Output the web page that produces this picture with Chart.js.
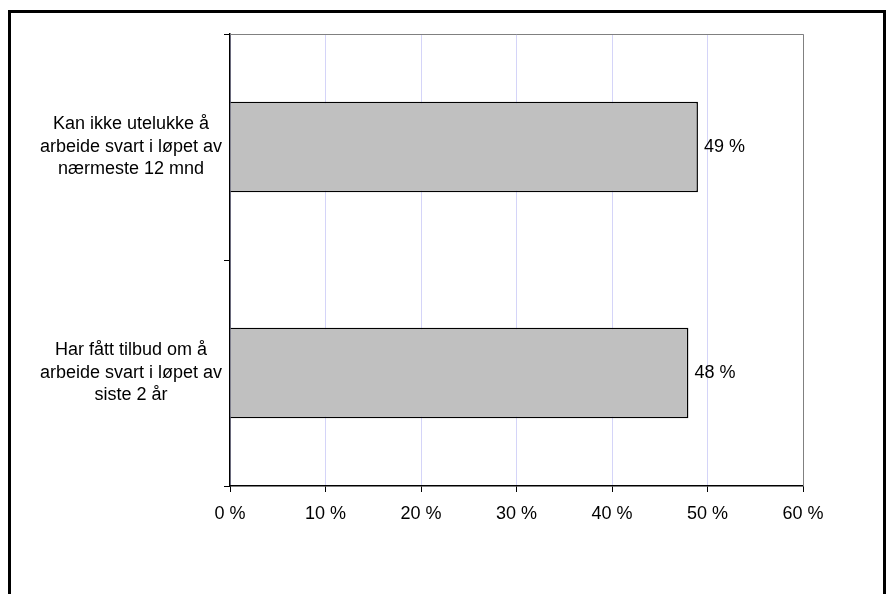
<!DOCTYPE html>
<html>
<head>
<meta charset="utf-8">
<script src="https://cdn.jsdelivr.net/npm/chart.js@4"></script>
<style>
  html, body { margin: 0; padding: 0; background: #fff; overflow: hidden; }
  #frame { position: absolute; left: 8px; top: 10px; width: 872px; height: 700px; border: 3px solid #000; }
  #wrap { position: absolute; left: 0; top: 0; width: 889px; height: 594px; }
</style>
</head>
<body>
<div id="frame"></div>
<div id="wrap"><canvas id="chart" width="889" height="594"></canvas></div>
<script>
// Data
const categories = [
  ['Kan ikke utelukke å', 'arbeide svart i løpet av', 'nærmeste 12 mnd'],
  ['Har fått tilbud om å', 'arbeide svart i løpet av', 'siste 2 år']
];
const values = [49, 48];
const xTicks = [0, 10, 20, 30, 40, 50, 60];

const FONT = { family: '"Liberation Sans", Arial, sans-serif', size: 18 };

// gray frame on top and right of the plot area
const plotFrame = {
  id: 'plotFrame',
  afterDraw(chart) {
    const { ctx, chartArea: a } = chart;
    ctx.save();
    ctx.strokeStyle = '#808080';
    ctx.lineWidth = 1;
    ctx.beginPath();
    ctx.moveTo(a.left, a.top + 0.5);
    ctx.lineTo(a.right + 0.5, a.top + 0.5);
    ctx.lineTo(a.right + 0.5, a.bottom);
    ctx.stroke();
    ctx.restore();
  }
};

// value labels right of each bar
const barLabels = {
  id: 'barLabels',
  afterDatasetsDraw(chart) {
    const { ctx } = chart;
    const meta = chart.getDatasetMeta(0);
    ctx.save();
    ctx.font = FONT.size + 'px ' + FONT.family;
    ctx.fillStyle = '#000';
    ctx.textAlign = 'left';
    ctx.textBaseline = 'middle';
    meta.data.forEach((bar, i) => {
      ctx.fillText(values[i] + ' %', bar.x + 6, bar.y);
    });
    ctx.restore();
  }
};

new Chart(document.getElementById('chart'), {
  type: 'bar',
  data: {
    labels: categories,
    datasets: [{
      data: values,
      backgroundColor: '#c0c0c0',
      borderColor: '#000',
      borderWidth: 1.5,
      barPercentage: 0.4,
      categoryPercentage: 1
    }]
  },
  options: {
    indexAxis: 'y',
    responsive: false,
    animation: false,
    layout: { padding: { top: 34, right: 86, left: 0, bottom: 0 } },
    plugins: {
      legend: { display: false },
      tooltip: { enabled: false }
    },
    scales: {
      x: {
        min: 0,
        max: 60,
        afterBuildTicks: (scale) => { scale.ticks = xTicks.map(v => ({ value: v })); },
        afterFit: (scale) => { scale.height = 108; },
        grid: { color: '#d4d4f8', tickColor: '#000', tickLength: 6, lineWidth: 1 },
        border: { color: '#000', width: 1.5 },
        ticks: {
          color: '#000',
          font: FONT,
          padding: 11,
          maxRotation: 0,
          callback: (v) => v + ' %'
        }
      },
      y: {
        afterFit: (scale) => {
          scale.width = 230;
          scale.paddingTop = 0;
          scale.paddingBottom = 0;
        },
        grid: { offset: true, drawOnChartArea: false, tickColor: '#000', tickLength: 6 },
        border: { color: '#000', width: 1.5 },
        ticks: {
          color: '#000',
          font: { family: FONT.family, size: FONT.size, lineHeight: 1.25 },
          padding: 2,
          crossAlign: 'center'
        }
      }
    }
  },
  plugins: [plotFrame, barLabels]
});
</script>
</body>
</html>
